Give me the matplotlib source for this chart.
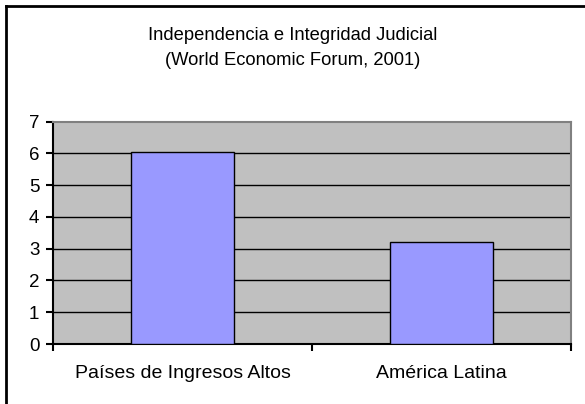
import numpy as np
import matplotlib.pyplot as plt
from matplotlib.lines import Line2D

plt.rcParams['font.family'] = ['Liberation Sans', 'DejaVu Sans']

# data
categories = ['Países de Ingresos Altos', 'América Latina']
values = [6.03, 3.2]
title = 'Independencia e Integridad Judicial\n(World Economic Forum, 2001)'

# view
fig = plt.figure(figsize=(5.85, 4.04), dpi=100)
ax = fig.add_axes([0.0911, 0.1485, 0.885, 0.5503])

x = np.arange(len(categories))
ax.set_facecolor('#C0C0C0')
ax.bar(x, values, width=0.4, color='#9999FF', edgecolor='black', linewidth=1, zorder=3)

ax.set_xlim(-0.5, len(categories) - 0.5)
ax.set_ylim(0, 7)
ax.set_yticks(range(0, 8))
for v in range(1, 7):
    ax.axhline(v, color='black', linewidth=1, zorder=1)

ax.set_xticks(x)
ax.set_xticklabels(categories, fontsize=14)
ax.tick_params(axis='x', length=0, pad=15)
ax.set_xticks(np.arange(-0.5, len(categories)), minor=True)
ax.tick_params(axis='x', which='minor', length=5, width=1.5, direction='out')
ax.tick_params(axis='y', length=5, width=1.5, direction='out', labelsize=13.5, pad=5)

for s in ['top', 'right']:
    ax.spines[s].set_color('#808080')
    ax.spines[s].set_linewidth(1.5)
for s in ['left', 'bottom']:
    ax.spines[s].set_color('black')
    ax.spines[s].set_linewidth(1.5)

fig.text(0.5, 1 - 48 / 404, title, ha='center', va='center', fontsize=13.2, linespacing=1.55)

# outer frame (left and top edges visible)
fig.add_artist(Line2D([6 / 585, 6 / 585], [0, 1 - 6 / 404], transform=fig.transFigure,
                      color='black', linewidth=2))
fig.add_artist(Line2D([6 / 585, 1], [1 - 6 / 404, 1 - 6 / 404], transform=fig.transFigure,
                      color='black', linewidth=2))

fig.savefig('out.png', dpi=100)
